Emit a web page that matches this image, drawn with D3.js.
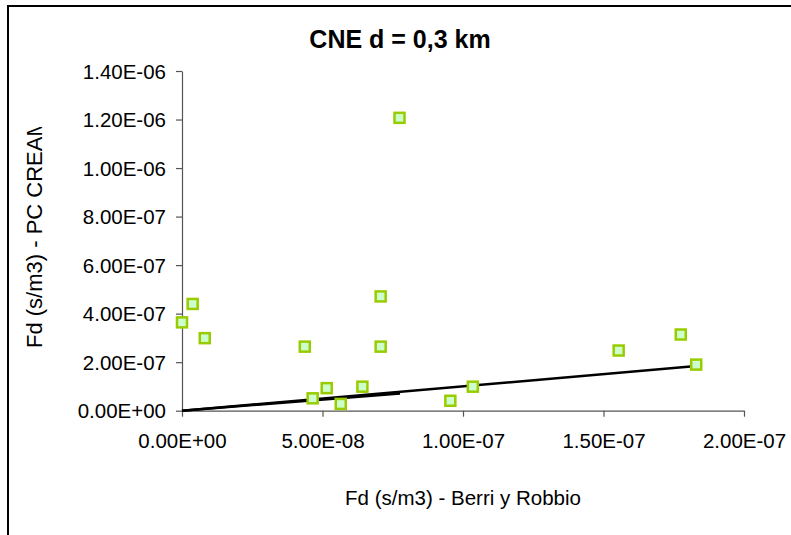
<!DOCTYPE html>
<html>
<head>
<meta charset="utf-8">
<script src="https://cdn.jsdelivr.net/npm/d3@7/dist/d3.min.js"></script>
<style>
  html, body { margin: 0; padding: 0; background: #fff; }
  svg { display: block; font-family: "Liberation Sans", Arial, sans-serif; }
</style>
</head>
<body>
<svg id="chart" width="791" height="535"></svg>
<script>
// Data
const title = "CNE d = 0,3 km";
const xTitle = "Fd (s/m3) - Berri y Robbio";
const yTitle = "Fd (s/m3) - PC CREAM";
const xValues = [0, 3.8e-9, 8.1e-9, 43.7e-9, 46.5e-9, 51.5e-9, 56.5e-9, 64.2e-9,
                 70.7e-9, 70.7e-9, 77.4e-9, 95.5e-9, 103.5e-9, 155.4e-9, 177.5e-9, 183.0e-9];
const yValues = [3.64e-7, 4.40e-7, 2.99e-7, 2.64e-7, 0.51e-7, 0.93e-7, 0.28e-7, 0.99e-7,
                 4.71e-7, 2.64e-7, 12.07e-7, 0.41e-7, 0.99e-7, 2.48e-7, 3.14e-7, 1.90e-7];
const trendA = [[0, 0], [7.76e-8, 7.1e-8]];
const trendB = [[0, 0], [1.81e-7, 1.82e-7]];
const xTicks = [0, 5e-8, 1e-7, 1.5e-7, 2e-7];
const yTicks = [0, 2e-7, 4e-7, 6e-7, 8e-7, 1e-6, 1.2e-6, 1.4e-6];

function fmtE(v) {
  if (v === 0) return "0.00E+00";
  const s = v.toExponential(2).toUpperCase();
  const m = s.match(/^(-?[\d.]+)E([+-])(\d+)$/);
  return m[1] + "E" + m[2] + m[3].padStart(2, "0");
}

const svg = d3.select("#chart");
const pLeft = 182, pRight = 744, pTop = 71, pBottom = 410.7;

const x = d3.scaleLinear().domain([0, 2e-7]).range([pLeft, pRight]);
const y = d3.scaleLinear().domain([0, 1.4e-6]).range([pBottom, pTop]);

// chart frame (extends past the window on the right/bottom)
svg.append("rect")
  .attr("x", 8).attr("y", 6).attr("width", 900).attr("height", 700)
  .attr("fill", "#fff").attr("stroke", "#000").attr("stroke-width", 2);

// title
svg.append("text")
  .attr("x", 400).attr("y", 48)
  .attr("text-anchor", "middle")
  .attr("font-weight", "bold").attr("font-size", 25)
  .text(title);

// axes
const xAxis = d3.axisBottom(x).tickValues(xTicks).tickFormat(fmtE).tickSize(6).tickSizeOuter(0);
const yAxis = d3.axisLeft(y).tickValues(yTicks).tickFormat(fmtE).tickSize(6).tickSizeOuter(0);

const gx = svg.append("g").attr("transform", `translate(0,${pBottom})`).call(xAxis);
const gy = svg.append("g").attr("transform", `translate(${pLeft},0)`).call(yAxis);

[gx, gy].forEach(g => {
  g.select(".domain").attr("stroke", "#555").attr("stroke-width", 1.2);
  g.selectAll(".tick line").attr("stroke", "#555").attr("stroke-width", 1.2);
  g.selectAll(".tick text").attr("fill", "#000").attr("font-size", 20.5)
    .attr("font-family", "'Liberation Sans', Arial, sans-serif");
});
gx.selectAll(".tick text").attr("y", 0).attr("dy", 0).attr("transform", "translate(0,37.5)");
gy.selectAll(".tick text").attr("x", -16).attr("dy", "0.35em");

// axis titles
svg.append("text")
  .attr("x", (pLeft + pRight) / 2).attr("y", 505)
  .attr("text-anchor", "middle").attr("font-size", 20.5)
  .text(xTitle);

svg.append("clipPath").attr("id", "yclip")
  .append("rect").attr("x", 0).attr("y", 127).attr("width", 100).attr("height", 300);

svg.append("g").attr("clip-path", "url(#yclip)")
  .append("text")
  .attr("transform", "translate(42,348) rotate(-90)")
  .attr("text-anchor", "start").attr("font-size", 22)
  .text(yTitle);

// trendlines
const line = d3.line().x(d => x(d[0])).y(d => y(d[1]));
[trendA, trendB].forEach(t => {
  svg.append("path").datum(t).attr("d", line)
    .attr("fill", "none").attr("stroke", "#000").attr("stroke-width", 2.5);
});

// points
const pts = xValues.map((v, i) => ({ x: v, y: yValues[i] }));
const s = 10;
svg.append("g").selectAll("rect").data(pts).join("rect")
  .attr("x", d => x(d.x) - s / 2).attr("y", d => y(d.y) - s / 2)
  .attr("width", s).attr("height", s)
  .attr("fill", "#CCFFCC").attr("stroke", "#99CC00").attr("stroke-width", 2.5);
</script>
</body>
</html>
